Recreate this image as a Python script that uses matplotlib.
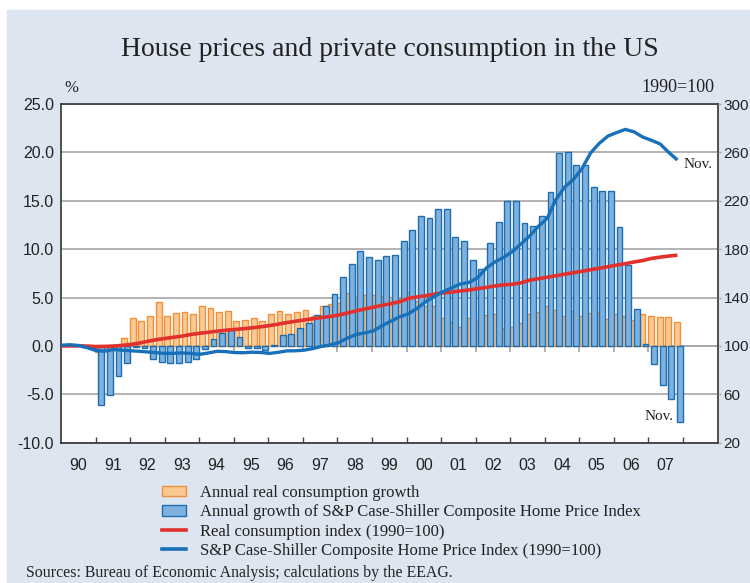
import numpy as np
import matplotlib
matplotlib.use("Agg")
import matplotlib.pyplot as plt
from matplotlib.patches import Rectangle, Patch
from matplotlib.lines import Line2D

SERIF = ["Liberation Serif", "DejaVu Serif"]
SANS = ["Liberation Sans", "DejaVu Sans"]

# ---------------- data ----------------
years = list(range(1990, 2008))
year_labels = ["90", "91", "92", "93", "94", "95", "96", "97", "98", "99",
               "00", "01", "02", "03", "04", "05", "06", "07"]

# Annual real consumption growth (%), quarterly 1990Q1-2007Q4
cons_growth = [0.1, 0.1, 0.05, -0.1,
               -0.6, -0.4, -0.2, 0.8,
               2.9, 2.6, 3.1, 4.5,
               3.1, 3.4, 3.55, 3.3,
               4.1, 3.9, 3.5, 3.6,
               2.6, 2.7, 2.9, 2.6,
               3.3, 3.6, 3.3, 3.5,
               3.7, 3.1, 4.1, 4.3,
               4.4, 5.5, 5.1, 5.3,
               5.3, 5.2, 5.1, 5.0,
               5.6, 4.6, 4.1, 4.1,
               2.9, 2.5, 2.0, 2.9,
               2.7, 3.2, 3.3, 1.9,
               2.0, 2.4, 3.3, 3.5,
               4.1, 3.75, 3.1, 3.6,
               3.1, 3.4, 3.55, 2.8,
               3.3, 3.05, 2.7, 3.35,
               3.1, 2.95, 2.95, 2.5]

# Annual growth of S&P Case-Shiller Composite Home Price Index (%)
hpi_growth = [0.1, 0.0, -0.1, -0.2,
              -6.1, -5.1, -3.1, -1.75,
              -0.1, -0.2, -1.4, -1.7,
              -1.8, -1.8, -1.65, -1.3,
              -0.3, 0.7, 1.3, 1.6,
              0.9, -0.2, -0.2, -0.4,
              0.1, 1.1, 1.2, 1.9,
              2.4, 3.2, 4.1, 5.4,
              7.1, 8.45, 9.85, 9.15,
              8.85, 9.3, 9.4, 10.8,
              12.0, 13.4, 13.2, 14.1,
              14.1, 11.3, 10.8, 8.9,
              7.9, 10.65, 12.8, 15.0,
              15.0, 12.75, 12.4, 13.45,
              15.95, 19.9, 20.0, 18.7,
              18.65, 16.4, 16.0, 16.0,
              12.3, 8.35, 3.85, 0.2,
              -1.85, -4.0, -5.5, -7.85]

# Index lines (1990=100), roughly quarterly, 1990 to Nov. 2007
line_start, line_end = 1990.0, 2007.84
cons_index = [100.0, 100.1, 100.1, 99.9, 99.5, 99.6, 99.9, 100.4,
              101.2, 102.3, 103.8, 105.2, 106.2, 107.2, 108.2, 109.5,
              110.5, 111.3, 112.2, 113.0, 113.6, 114.2, 115.0, 115.8,
              116.8, 118.0, 119.3, 120.4, 121.4, 122.5, 123.5, 124.3,
              125.6, 127.2, 129.0, 130.6, 132.0, 133.6, 135.0, 136.5,
              139.3, 140.5, 141.5, 142.8, 143.8, 144.6, 145.4, 146.3,
              147.4, 148.4, 149.6, 150.5, 151.0, 152.2, 154.4, 155.6,
              156.8, 158.0, 159.3, 160.5, 161.7, 163.0, 164.2, 165.5,
              166.8, 168.0, 169.4, 170.6, 172.3, 173.4, 174.3, 175.0]
hpi_index = [100.5, 101.0, 100.4, 98.6, 96.2, 95.6, 97.0, 96.5,
             96.0, 95.6, 95.0, 94.4, 93.8, 93.9, 94.2, 93.8,
             93.1, 94.2, 95.6, 95.3, 94.5, 94.4, 94.8, 94.6,
             93.8, 94.7, 95.9, 96.0, 96.5, 97.8, 99.6, 100.8,
             102.8, 106.5, 109.5, 110.8, 112.5, 116.8, 120.5, 124.1,
             126.5, 131.0, 136.5, 141.0, 144.8, 148.0, 151.2, 152.5,
             156.5, 164.5, 169.5, 173.3, 178.0, 184.5, 191.0, 199.0,
             205.5, 221.0, 231.2, 237.5, 246.5, 259.5, 267.5, 273.5,
             276.4, 279.0, 277.0, 272.7, 270.0, 267.0, 260.0, 253.7]

legend_labels = ["Annual real consumption growth",
                 "Annual growth of S&P Case-Shiller Composite Home Price Index",
                 "Real consumption index (1990=100)",
                 "S&P Case-Shiller Composite Home Price Index (1990=100)"]

# ---------------- styling ----------------
BG = "#dde5f1"
ORANGE_FILL = "#f9c994"
ORANGE_EDGE = "#f0913a"
BLUE_FILL = "#7fb1de"
BLUE_EDGE = "#1d6db3"
RED_LINE = "#e2302d"
BLUE_LINE = "#1870b8"
GRID = "#a6a6a6"

W, H = 750, 583
fig = plt.figure(figsize=(W / 100, H / 100), dpi=100)
fig.patch.set_facecolor("white")
fig.patches.append(Rectangle((7 / W, 0), 1 - 7 / W, 1 - 10 / H,
                             transform=fig.transFigure, color=BG, zorder=-10))

L, R, T, B = 61, 717.5, 104, 442.7
ax = fig.add_axes([L / W, 1 - B / H, (R - L) / W, (B - T) / H])
ax.set_facecolor("white")

# bars
n_q = len(cons_growth)
q_centers = np.array([years[0] + (i + 0.5) / 4 for i in range(n_q)])
bw = 0.17
ax.bar(q_centers - 0.05, cons_growth, width=bw, color=ORANGE_FILL,
       edgecolor=ORANGE_EDGE, linewidth=1.0, zorder=3)
ax.bar(q_centers + 0.04, hpi_growth, width=bw, color=BLUE_FILL,
       edgecolor=BLUE_EDGE, linewidth=1.0, zorder=4)

ax.set_xlim(1990, 2009)
ax.set_ylim(-10, 25)
yt = np.arange(-10, 25.1, 5)
ax.set_yticks(yt)
ax.set_yticklabels([f"{v:.1f}" for v in yt], family=SANS, fontsize=11.5)
ax.tick_params(axis="y", length=0, pad=5, colors="#222222")
ax.grid(axis="y", color=GRID, linewidth=1.2, zorder=1)
ax.set_axisbelow(True)

# year ticks
ax.set_xticks(np.arange(1991, 2009))
ax.set_xticklabels([])
ax.tick_params(axis="x", which="major", direction="in", length=4,
               color="#444444", width=1)
ax.set_xticks(np.array(years) + 0.5, minor=True)
ax.set_xticklabels(year_labels, minor=True, family=SANS, fontsize=11.5)
ax.tick_params(axis="x", which="minor", length=0, pad=11, colors="#222222")

for s in ax.spines.values():
    s.set_color("#333333")
    s.set_linewidth(1.2)

# zero axis with crossing ticks
sec = ax.secondary_xaxis(10 / 35)
sec.set_xticks(np.arange(1991, 2009))
sec.tick_params(axis="x", direction="out", length=4, color=GRID, width=1.2,
                labelbottom=False, labeltop=False)
for s in sec.spines.values():
    s.set_color(GRID)
    s.set_linewidth(1.2)

# right axis with index lines
ax2 = ax.twinx()
ax2.set_ylim(20, 300)
ax2.set_yticks(np.arange(20, 301, 40))
ax2.set_yticklabels([str(v) for v in range(20, 301, 40)], family=SANS,
                    fontsize=11)
ax2.tick_params(axis="y", length=2, pad=2.5, colors="#222222", width=1)
ax2.tick_params(axis="y", color=GRID)
for s in ax2.spines.values():
    s.set_visible(False)

line_x = np.linspace(line_start, line_end, len(cons_index))
ax2.plot(line_x, cons_index, color=RED_LINE, linewidth=2.6, zorder=5,
         solid_capstyle="butt")
ax2.plot(line_x, hpi_index, color=BLUE_LINE, linewidth=2.4, zorder=6,
         solid_capstyle="butt")

# annotations
ax2.text(line_end + 0.17, hpi_index[-1] - 4, "Nov.", family=SERIF,
         fontsize=11, ha="left", va="center", color="#222222")
ax.text(q_centers[-1] - 0.15, -7.3, "Nov.", family=SERIF, fontsize=11,
        ha="right", va="center", color="#222222")

fig.text(390 / W, 1 - 49 / H, "House prices and private consumption in the US",
         family=SERIF, fontsize=20, ha="center", va="center", color="#222222")
fig.text(64 / W, 1 - 88 / H, "%", family=SERIF, fontsize=12, ha="left",
         va="center", color="#222222")
fig.text(714 / W, 1 - 88 / H, "1990=100", family=SERIF, fontsize=13,
         ha="right", va="center", color="#222222")

handles = [Patch(facecolor=ORANGE_FILL, edgecolor=ORANGE_EDGE, linewidth=1),
           Patch(facecolor=BLUE_FILL, edgecolor=BLUE_EDGE, linewidth=1),
           Line2D([], [], color=RED_LINE, linewidth=2.6),
           Line2D([], [], color=BLUE_LINE, linewidth=2.6)]
leg = fig.legend(handles, legend_labels, loc="upper left",
                 bbox_to_anchor=(162 / W, 1 - 485 / H), frameon=False,
                 prop={"family": SERIF, "size": 12}, handlelength=1.44,
                 handleheight=0.6, handletextpad=0.85, labelspacing=0.2,
                 borderpad=0, borderaxespad=0)
for t in leg.get_texts():
    t.set_color("#222222")

fig.text(26 / W, 1 - 573 / H,
         "Sources: Bureau of Economic Analysis; calculations by the EEAG.",
         family=SERIF, fontsize=11.4, ha="left", va="center", color="#222222")

fig.savefig("out.png", dpi=100, facecolor=fig.get_facecolor())
